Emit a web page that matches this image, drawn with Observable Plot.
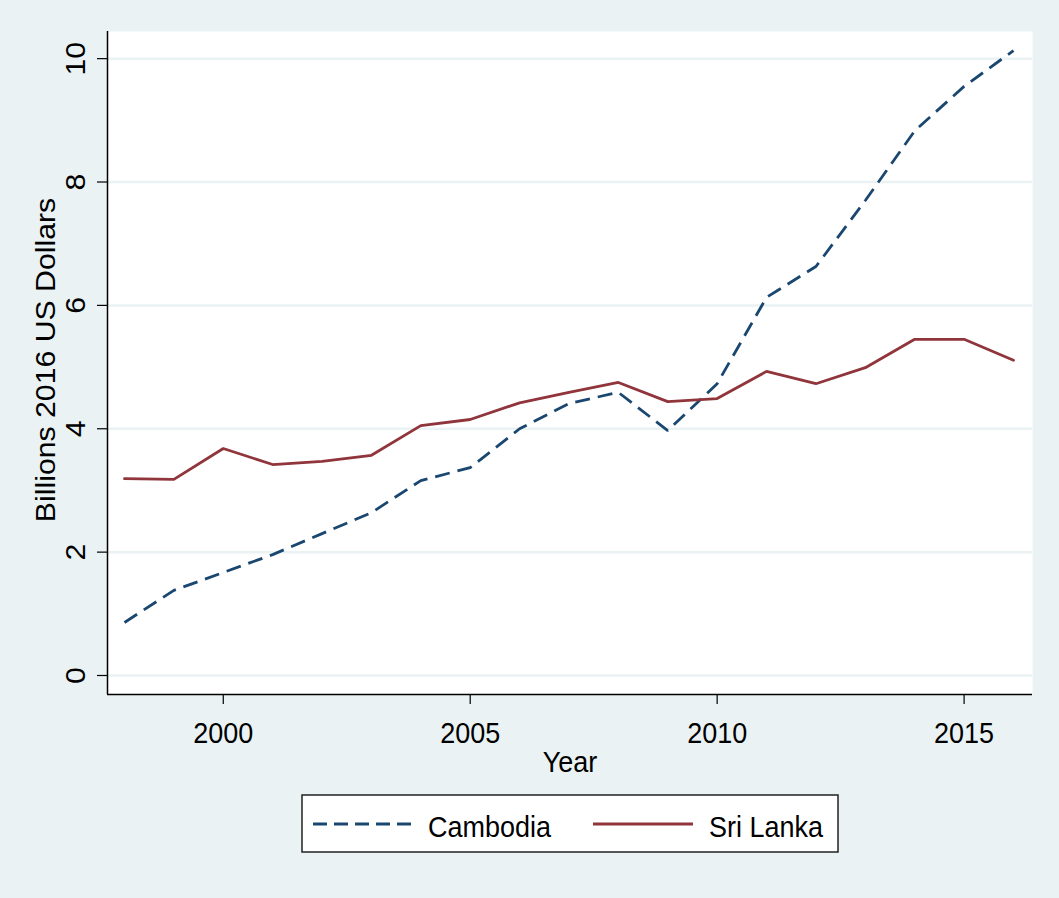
<!DOCTYPE html>
<html>
<head>
<meta charset="utf-8">
<script src="https://cdn.jsdelivr.net/npm/d3@7"></script>
<script src="https://cdn.jsdelivr.net/npm/@observablehq/plot@0.6"></script>
<style>
  html, body { margin: 0; padding: 0; background: #eaf2f3; }
  body { width: 1059px; height: 898px; position: relative; overflow: hidden; font-family: "Liberation Sans", Arial, sans-serif; }
  #chart { position: absolute; left: 0; top: 0; }
  #legend { position: absolute; left: 0; top: 785px; }
  svg { display: block; }
</style>
</head>
<body>
<div id="chart"></div>
<div id="legend"></div>
<script>
const years = [1998,1999,2000,2001,2002,2003,2004,2005,2006,2007,2008,2009,2010,2011,2012,2013,2014,2015,2016];
const cambodia = [0.86,1.38,1.67,1.96,2.30,2.64,3.16,3.37,4.00,4.41,4.59,3.97,4.73,6.13,6.63,7.70,8.83,9.55,10.13];
const sriLanka = [3.19,3.18,3.68,3.42,3.47,3.57,4.05,4.15,4.42,4.59,4.75,4.44,4.49,4.93,4.73,4.99,5.45,5.45,5.11];
const seriesNames = ["Cambodia", "Sri Lanka"];
const seriesColors = ["#1a476f", "#90353b"];
const xTicks = [2000, 2005, 2010, 2015];
const yTicks = [0, 2, 4, 6, 8, 10];
const xDomain = [1997.656, 2016.385];
const yDomain = [-0.308, 10.44];

const rows = [];
years.forEach((yr, i) => {
  rows.push({year: yr, value: cambodia[i], country: seriesNames[0]});
  rows.push({year: yr, value: sriLanka[i], country: seriesNames[1]});
});

const font = "'Liberation Sans', Arial, sans-serif";
const fs = 27;
const stretchK = 1.12; // reference glyphs are taller than wide

const chart = Plot.plot({
  width: 1059,
  height: 785,
  marginLeft: 107,
  marginRight: 27,
  marginTop: 31,
  marginBottom: 91,
  style: {background: "#eaf2f3", fontFamily: font, fontSize: fs + "px", color: "#000"},
  x: {domain: xDomain, label: null},
  y: {domain: yDomain, label: null},
  marks: [
    Plot.frame({fill: "white", stroke: "none"}),
    Plot.gridY(yTicks, {stroke: "#eaf2f3", strokeOpacity: 1, strokeWidth: 2.5}),
    Plot.ruleX([xDomain[0]], {stroke: "#000", strokeWidth: 1.5}),
    Plot.ruleY([yDomain[0]], {stroke: "#000", strokeWidth: 1.5}),
    Plot.axisY({ticks: yTicks, tickSize: 10, tickFormat: () => "", label: null, stroke: "#000", strokeWidth: 1.2}),
    Plot.text(yTicks, {y: d => d, text: d => String(d), frameAnchor: "left", dx: -31, rotate: -90, textAnchor: "middle", lineAnchor: "middle", fontSize: fs, fill: "#000"}),
    Plot.axisX({ticks: xTicks, tickSize: 10, tickPadding: 17, tickFormat: d => String(d), label: null, fontSize: fs, stroke: "#000", strokeWidth: 1.2}),
    Plot.text(["Year"], {frameAnchor: "bottom", dy: 68, text: d => d, textAnchor: "middle", lineAnchor: "middle", fontSize: fs, fill: "#000"}),
    Plot.text(["Billions 2016 US Dollars"], {frameAnchor: "left", dx: -61, dy: -3, text: d => d, rotate: -90, textAnchor: "middle", lineAnchor: "middle", fontSize: fs, fill: "#000"}),
    Plot.line(rows.filter(d => d.country === seriesNames[0]), {x: "year", y: "value", stroke: seriesColors[0], strokeWidth: 2.8, strokeDasharray: "15,8", strokeLinejoin: "miter", strokeLinecap: "butt"}),
    Plot.line(rows.filter(d => d.country === seriesNames[1]), {x: "year", y: "value", stroke: seriesColors[1], strokeWidth: 2.8, strokeLinejoin: "miter"})
  ]
});
document.getElementById("chart").appendChild(chart);

// stretch glyphs vertically to mimic the reference rendering
d3.select(chart).selectAll("text").each(function() {
  const t = this.getAttribute("transform") || "";
  const rotated = /rotate\(/.test(t);
  const sc = rotated ? `scale(${stretchK},1)` : `scale(1,${stretchK})`;
  if (/translate\(/.test(t)) {
    this.setAttribute("transform", `${t} ${sc}`);
  } else {
    const x = parseFloat(this.getAttribute("x")) || 0;
    const y = parseFloat(this.getAttribute("y")) || 0;
    this.setAttribute("transform", `${t} translate(${x},${y}) ${sc} translate(${-x},${-y})`);
  }
});

// Legend (below the chart)
const lg = d3.create("svg").attr("width", 1059).attr("height", 113);
lg.append("rect").attr("x", 302).attr("y", 10).attr("width", 536).attr("height", 57)
  .attr("fill", "#fff").attr("stroke", "#222").attr("stroke-width", 1.5);
const legendItems = [
  {name: seriesNames[0], color: seriesColors[0], dash: "14,7", x1: 313, x2: 412, tx: 428},
  {name: seriesNames[1], color: seriesColors[1], dash: null, x1: 593, x2: 693, tx: 709}
];
legendItems.forEach(it => {
  lg.append("line").attr("x1", it.x1).attr("x2", it.x2).attr("y1", 39).attr("y2", 39)
    .attr("stroke", it.color).attr("stroke-width", 2.8).attr("stroke-dasharray", it.dash);
  lg.append("text").attr("x", 0).attr("y", 0)
    .attr("transform", `translate(${it.tx},52) scale(1,${stretchK})`)
    .attr("font-family", font).attr("font-size", fs).attr("fill", "#000")
    .text(it.name);
});
document.getElementById("legend").appendChild(lg.node());
</script>
</body>
</html>
